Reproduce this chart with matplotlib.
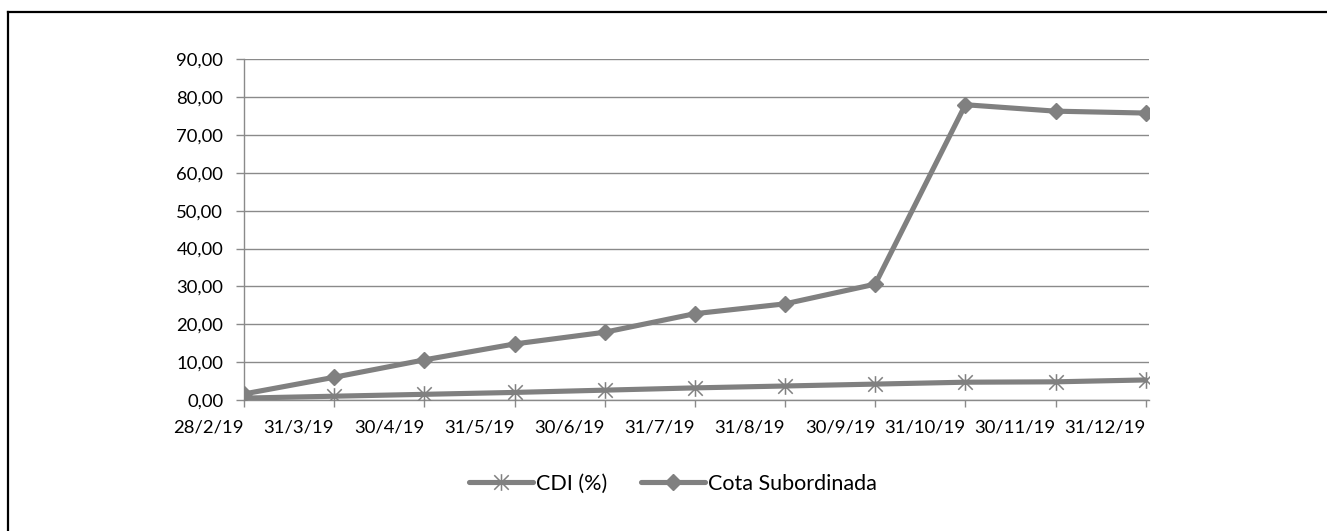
import matplotlib
matplotlib.use("Agg")
import matplotlib.pyplot as plt
from matplotlib.path import Path
from matplotlib.lines import Line2D
import numpy as np

dates = ["28/2/19", "31/3/19", "30/4/19", "31/5/19", "30/6/19", "31/7/19",
         "31/8/19", "30/9/19", "31/10/19", "30/11/19", "31/12/19"]
cdi = [0.5, 1.0, 1.5, 2.0, 2.6, 3.2, 3.7, 4.2, 4.7, 4.8, 5.3]
cota = [1.6, 6.0, 10.6, 14.8, 17.9, 22.8, 25.4, 30.6, 78.0, 76.3, 75.8]
yticks = [0, 10, 20, 30, 40, 50, 60, 70, 80, 90]

plt.rcParams['font.family'] = ['Lato', 'DejaVu Sans']
FS = 13.3
LFS = 15.5
GRAY = '#808080'
GRID = '#8a8a8a'

star = Path([(-1, -1), (1, 1), (-1, 1), (1, -1), (0, -1.15), (0, 1.15)],
            [Path.MOVETO, Path.LINETO, Path.MOVETO, Path.LINETO, Path.MOVETO, Path.LINETO])

W, H = 1327, 531
L, R, T, B = 244, 1149.3, 59.3, 400
fig = plt.figure(figsize=(W/100, H/100), dpi=100)
ax = fig.add_axes([L/W, 1-B/H, (R-L)/W, (B-T)/H])

x = np.arange(len(dates))
ax.plot(x, cdi, color=GRAY, lw=3.7, marker=star, ms=12, mew=1.1,
        mec=GRAY, label='CDI (%)', solid_capstyle='round', zorder=3)
ax.plot(x, cota, color=GRAY, lw=3.7, marker='D', ms=8, mew=1,
        mec=GRAY, mfc=GRAY, label='Cota Subordinada', solid_capstyle='round', zorder=4)

step = (1145.7 - L) / 10
ax.set_xlim(0, (R - L) / step)
ax.set_ylim(0, 90)
ax.set_yticks(yticks)
ax.set_yticklabels([f"{v:.2f}".replace('.', ',') for v in yticks], fontsize=FS)
ax.set_xticks(x)
ax.set_xticklabels(dates, fontsize=FS, ha='right')
ax.yaxis.grid(True, color=GRID, lw=1.0)
ax.set_axisbelow(True)
for s in ['top', 'right']:
    ax.spines[s].set_visible(False)
for s in ['left', 'bottom']:
    ax.spines[s].set_color(GRID)
    ax.spines[s].set_linewidth(1.0)
ax.tick_params(axis='y', length=5.5, width=1.0, color=GRID, pad=9.5, labelcolor='black')
ax.tick_params(axis='x', length=5, width=1.0, color=GRID, pad=9, labelcolor='black')

leg = fig.legend(loc='center', bbox_to_anchor=(673/W, 1-484/H), ncol=2,
                 frameon=False, fontsize=LFS, handlelength=3.0, handletextpad=0.14,
                 columnspacing=1.55)

fig.add_artist(Line2D([8.3/W, 8.3/W], [0, 1-12.3/H], color='black', lw=1.6,
                      transform=fig.transFigure))
fig.add_artist(Line2D([8.3/W, 1], [1-12.3/H, 1-12.3/H], color='black', lw=1.6,
                      transform=fig.transFigure))

fig.savefig('out.png', dpi=100)
